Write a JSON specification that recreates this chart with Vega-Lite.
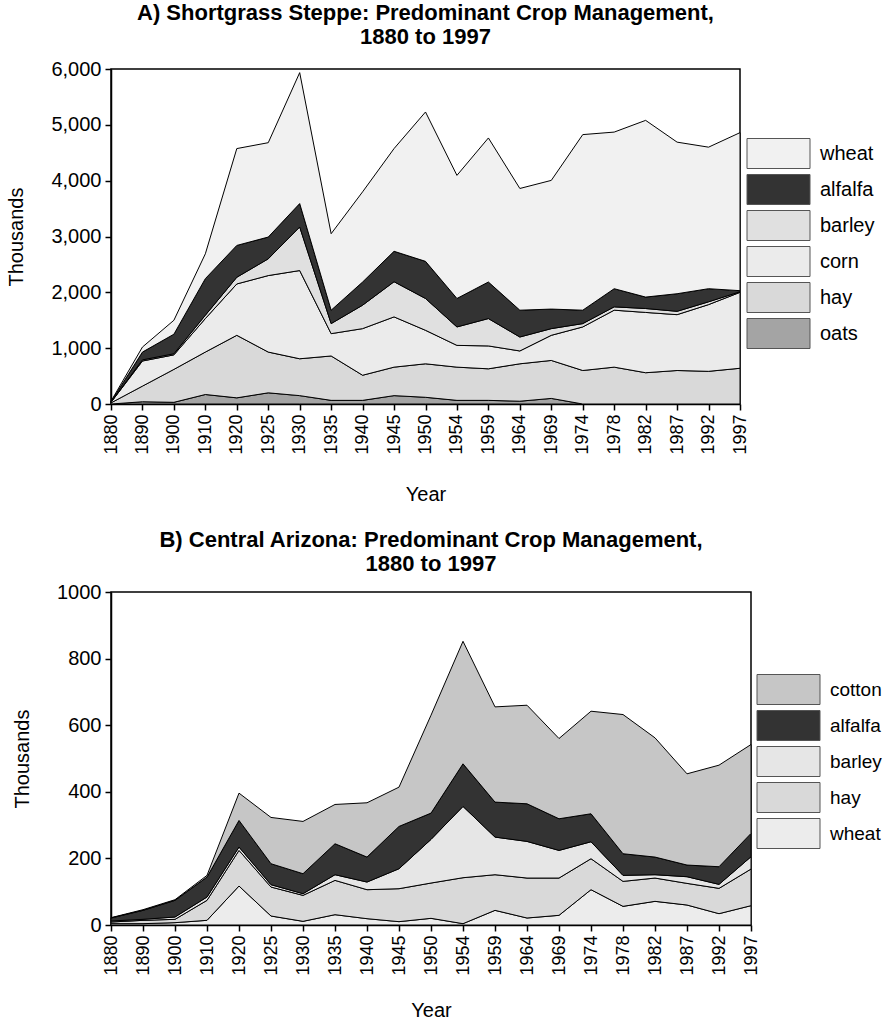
{
  "$schema": "https://vega.github.io/schema/vega-lite/v6.json",
  "padding": {"left": 6, "top": 1, "right": 0, "bottom": 0},
  "background": "white",
  "datasets": {
    "steppe": [
      {"year": "1880", "crop": "oats", "value": 0}, {"year": "1880", "crop": "hay", "value": 20}, {"year": "1880", "crop": "corn", "value": 10}, {"year": "1880", "crop": "barley", "value": 5}, {"year": "1880", "crop": "alfalfa", "value": 5}, {"year": "1880", "crop": "wheat", "value": 10},
      {"year": "1890", "crop": "oats", "value": 40}, {"year": "1890", "crop": "hay", "value": 280}, {"year": "1890", "crop": "corn", "value": 450}, {"year": "1890", "crop": "barley", "value": 20}, {"year": "1890", "crop": "alfalfa", "value": 140}, {"year": "1890", "crop": "wheat", "value": 90},
      {"year": "1900", "crop": "oats", "value": 30}, {"year": "1900", "crop": "hay", "value": 590}, {"year": "1900", "crop": "corn", "value": 260}, {"year": "1900", "crop": "barley", "value": 20}, {"year": "1900", "crop": "alfalfa", "value": 350}, {"year": "1900", "crop": "wheat", "value": 250},
      {"year": "1910", "crop": "oats", "value": 170}, {"year": "1910", "crop": "hay", "value": 760}, {"year": "1910", "crop": "corn", "value": 600}, {"year": "1910", "crop": "barley", "value": 60}, {"year": "1910", "crop": "alfalfa", "value": 655}, {"year": "1910", "crop": "wheat", "value": 445},
      {"year": "1920", "crop": "oats", "value": 110}, {"year": "1920", "crop": "hay", "value": 1120}, {"year": "1920", "crop": "corn", "value": 920}, {"year": "1920", "crop": "barley", "value": 120}, {"year": "1920", "crop": "alfalfa", "value": 570}, {"year": "1920", "crop": "wheat", "value": 1735},
      {"year": "1925", "crop": "oats", "value": 200}, {"year": "1925", "crop": "hay", "value": 730}, {"year": "1925", "crop": "corn", "value": 1370}, {"year": "1925", "crop": "barley", "value": 300}, {"year": "1925", "crop": "alfalfa", "value": 390}, {"year": "1925", "crop": "wheat", "value": 1690},
      {"year": "1930", "crop": "oats", "value": 150}, {"year": "1930", "crop": "hay", "value": 660}, {"year": "1930", "crop": "corn", "value": 1580}, {"year": "1930", "crop": "barley", "value": 780}, {"year": "1930", "crop": "alfalfa", "value": 420}, {"year": "1930", "crop": "wheat", "value": 2345},
      {"year": "1935", "crop": "oats", "value": 65}, {"year": "1935", "crop": "hay", "value": 795}, {"year": "1935", "crop": "corn", "value": 400}, {"year": "1935", "crop": "barley", "value": 180}, {"year": "1935", "crop": "alfalfa", "value": 240}, {"year": "1935", "crop": "wheat", "value": 1370},
      {"year": "1940", "crop": "oats", "value": 65}, {"year": "1940", "crop": "hay", "value": 450}, {"year": "1940", "crop": "corn", "value": 835}, {"year": "1940", "crop": "barley", "value": 420}, {"year": "1940", "crop": "alfalfa", "value": 415}, {"year": "1940", "crop": "wheat", "value": 1615},
      {"year": "1945", "crop": "oats", "value": 150}, {"year": "1945", "crop": "hay", "value": 510}, {"year": "1945", "crop": "corn", "value": 900}, {"year": "1945", "crop": "barley", "value": 630}, {"year": "1945", "crop": "alfalfa", "value": 545}, {"year": "1945", "crop": "wheat", "value": 1840},
      {"year": "1950", "crop": "oats", "value": 120}, {"year": "1950", "crop": "hay", "value": 600}, {"year": "1950", "crop": "corn", "value": 600}, {"year": "1950", "crop": "barley", "value": 570}, {"year": "1950", "crop": "alfalfa", "value": 665}, {"year": "1950", "crop": "wheat", "value": 2675},
      {"year": "1954", "crop": "oats", "value": 65}, {"year": "1954", "crop": "hay", "value": 595}, {"year": "1954", "crop": "corn", "value": 390}, {"year": "1954", "crop": "barley", "value": 330}, {"year": "1954", "crop": "alfalfa", "value": 510}, {"year": "1954", "crop": "wheat", "value": 2205},
      {"year": "1959", "crop": "oats", "value": 65}, {"year": "1959", "crop": "hay", "value": 565}, {"year": "1959", "crop": "corn", "value": 410}, {"year": "1959", "crop": "barley", "value": 490}, {"year": "1959", "crop": "alfalfa", "value": 655}, {"year": "1959", "crop": "wheat", "value": 2580},
      {"year": "1964", "crop": "oats", "value": 50}, {"year": "1964", "crop": "hay", "value": 670}, {"year": "1964", "crop": "corn", "value": 230}, {"year": "1964", "crop": "barley", "value": 250}, {"year": "1964", "crop": "alfalfa", "value": 480}, {"year": "1964", "crop": "wheat", "value": 2180},
      {"year": "1969", "crop": "oats", "value": 100}, {"year": "1969", "crop": "hay", "value": 680}, {"year": "1969", "crop": "corn", "value": 450}, {"year": "1969", "crop": "barley", "value": 120}, {"year": "1969", "crop": "alfalfa", "value": 350}, {"year": "1969", "crop": "wheat", "value": 2305},
      {"year": "1974", "crop": "oats", "value": 0}, {"year": "1974", "crop": "hay", "value": 600}, {"year": "1974", "crop": "corn", "value": 780}, {"year": "1974", "crop": "barley", "value": 60}, {"year": "1974", "crop": "alfalfa", "value": 240}, {"year": "1974", "crop": "wheat", "value": 3145},
      {"year": "1978", "crop": "oats", "value": 0}, {"year": "1978", "crop": "hay", "value": 660}, {"year": "1978", "crop": "corn", "value": 1020}, {"year": "1978", "crop": "barley", "value": 60}, {"year": "1978", "crop": "alfalfa", "value": 325}, {"year": "1978", "crop": "wheat", "value": 2805},
      {"year": "1982", "crop": "oats", "value": 0}, {"year": "1982", "crop": "hay", "value": 560}, {"year": "1982", "crop": "corn", "value": 1080}, {"year": "1982", "crop": "barley", "value": 70}, {"year": "1982", "crop": "alfalfa", "value": 205}, {"year": "1982", "crop": "wheat", "value": 3165},
      {"year": "1987", "crop": "oats", "value": 0}, {"year": "1987", "crop": "hay", "value": 600}, {"year": "1987", "crop": "corn", "value": 1000}, {"year": "1987", "crop": "barley", "value": 60}, {"year": "1987", "crop": "alfalfa", "value": 315}, {"year": "1987", "crop": "wheat", "value": 2715},
      {"year": "1992", "crop": "oats", "value": 0}, {"year": "1992", "crop": "hay", "value": 585}, {"year": "1992", "crop": "corn", "value": 1195}, {"year": "1992", "crop": "barley", "value": 50}, {"year": "1992", "crop": "alfalfa", "value": 235}, {"year": "1992", "crop": "wheat", "value": 2535},
      {"year": "1997", "crop": "oats", "value": 0}, {"year": "1997", "crop": "hay", "value": 640}, {"year": "1997", "crop": "corn", "value": 1360}, {"year": "1997", "crop": "barley", "value": 10}, {"year": "1997", "crop": "alfalfa", "value": 20}, {"year": "1997", "crop": "wheat", "value": 2830}
    ],
    "arizona": [
      {"year": "1880", "crop": "wheat", "value": 4}, {"year": "1880", "crop": "hay", "value": 5}, {"year": "1880", "crop": "barley", "value": 3}, {"year": "1880", "crop": "alfalfa", "value": 9}, {"year": "1880", "crop": "cotton", "value": 1},
      {"year": "1890", "crop": "wheat", "value": 4}, {"year": "1890", "crop": "hay", "value": 10}, {"year": "1890", "crop": "barley", "value": 3}, {"year": "1890", "crop": "alfalfa", "value": 27}, {"year": "1890", "crop": "cotton", "value": 2},
      {"year": "1900", "crop": "wheat", "value": 7}, {"year": "1900", "crop": "hay", "value": 10}, {"year": "1900", "crop": "barley", "value": 7}, {"year": "1900", "crop": "alfalfa", "value": 50}, {"year": "1900", "crop": "cotton", "value": 2},
      {"year": "1910", "crop": "wheat", "value": 14}, {"year": "1910", "crop": "hay", "value": 60}, {"year": "1910", "crop": "barley", "value": 10}, {"year": "1910", "crop": "alfalfa", "value": 60}, {"year": "1910", "crop": "cotton", "value": 5},
      {"year": "1920", "crop": "wheat", "value": 117}, {"year": "1920", "crop": "hay", "value": 107}, {"year": "1920", "crop": "barley", "value": 10}, {"year": "1920", "crop": "alfalfa", "value": 80}, {"year": "1920", "crop": "cotton", "value": 82},
      {"year": "1925", "crop": "wheat", "value": 27}, {"year": "1925", "crop": "hay", "value": 87}, {"year": "1925", "crop": "barley", "value": 7}, {"year": "1925", "crop": "alfalfa", "value": 63}, {"year": "1925", "crop": "cotton", "value": 139},
      {"year": "1930", "crop": "wheat", "value": 11}, {"year": "1930", "crop": "hay", "value": 78}, {"year": "1930", "crop": "barley", "value": 5}, {"year": "1930", "crop": "alfalfa", "value": 60}, {"year": "1930", "crop": "cotton", "value": 157},
      {"year": "1935", "crop": "wheat", "value": 31}, {"year": "1935", "crop": "hay", "value": 103}, {"year": "1935", "crop": "barley", "value": 17}, {"year": "1935", "crop": "alfalfa", "value": 93}, {"year": "1935", "crop": "cotton", "value": 118},
      {"year": "1940", "crop": "wheat", "value": 19}, {"year": "1940", "crop": "hay", "value": 87}, {"year": "1940", "crop": "barley", "value": 23}, {"year": "1940", "crop": "alfalfa", "value": 75}, {"year": "1940", "crop": "cotton", "value": 163},
      {"year": "1945", "crop": "wheat", "value": 10}, {"year": "1945", "crop": "hay", "value": 99}, {"year": "1945", "crop": "barley", "value": 60}, {"year": "1945", "crop": "alfalfa", "value": 127}, {"year": "1945", "crop": "cotton", "value": 118},
      {"year": "1950", "crop": "wheat", "value": 20}, {"year": "1950", "crop": "hay", "value": 106}, {"year": "1950", "crop": "barley", "value": 131}, {"year": "1950", "crop": "alfalfa", "value": 79}, {"year": "1950", "crop": "cotton", "value": 294},
      {"year": "1954", "crop": "wheat", "value": 4}, {"year": "1954", "crop": "hay", "value": 138}, {"year": "1954", "crop": "barley", "value": 214}, {"year": "1954", "crop": "alfalfa", "value": 128}, {"year": "1954", "crop": "cotton", "value": 368},
      {"year": "1959", "crop": "wheat", "value": 44}, {"year": "1959", "crop": "hay", "value": 107}, {"year": "1959", "crop": "barley", "value": 113}, {"year": "1959", "crop": "alfalfa", "value": 105}, {"year": "1959", "crop": "cotton", "value": 286},
      {"year": "1964", "crop": "wheat", "value": 21}, {"year": "1964", "crop": "hay", "value": 120}, {"year": "1964", "crop": "barley", "value": 110}, {"year": "1964", "crop": "alfalfa", "value": 113}, {"year": "1964", "crop": "cotton", "value": 296},
      {"year": "1969", "crop": "wheat", "value": 29}, {"year": "1969", "crop": "hay", "value": 112}, {"year": "1969", "crop": "barley", "value": 83}, {"year": "1969", "crop": "alfalfa", "value": 95}, {"year": "1969", "crop": "cotton", "value": 241},
      {"year": "1974", "crop": "wheat", "value": 106}, {"year": "1974", "crop": "hay", "value": 93}, {"year": "1974", "crop": "barley", "value": 51}, {"year": "1974", "crop": "alfalfa", "value": 84}, {"year": "1974", "crop": "cotton", "value": 308},
      {"year": "1978", "crop": "wheat", "value": 56}, {"year": "1978", "crop": "hay", "value": 75}, {"year": "1978", "crop": "barley", "value": 18}, {"year": "1978", "crop": "alfalfa", "value": 65}, {"year": "1978", "crop": "cotton", "value": 418},
      {"year": "1982", "crop": "wheat", "value": 71}, {"year": "1982", "crop": "hay", "value": 70}, {"year": "1982", "crop": "barley", "value": 10}, {"year": "1982", "crop": "alfalfa", "value": 53}, {"year": "1982", "crop": "cotton", "value": 358},
      {"year": "1987", "crop": "wheat", "value": 60}, {"year": "1987", "crop": "hay", "value": 65}, {"year": "1987", "crop": "barley", "value": 20}, {"year": "1987", "crop": "alfalfa", "value": 35}, {"year": "1987", "crop": "cotton", "value": 274},
      {"year": "1992", "crop": "wheat", "value": 34}, {"year": "1992", "crop": "hay", "value": 76}, {"year": "1992", "crop": "barley", "value": 12}, {"year": "1992", "crop": "alfalfa", "value": 53}, {"year": "1992", "crop": "cotton", "value": 305},
      {"year": "1997", "crop": "wheat", "value": 58}, {"year": "1997", "crop": "hay", "value": 110}, {"year": "1997", "crop": "barley", "value": 37}, {"year": "1997", "crop": "alfalfa", "value": 70}, {"year": "1997", "crop": "cotton", "value": 267}
    ],
    "steppeOrder": [
      {"crop": "oats", "rank": 1}, {"crop": "hay", "rank": 2}, {"crop": "corn", "rank": 3},
      {"crop": "barley", "rank": 4}, {"crop": "alfalfa", "rank": 5}, {"crop": "wheat", "rank": 6}
    ],
    "arizonaOrder": [
      {"crop": "wheat", "rank": 1}, {"crop": "hay", "rank": 2}, {"crop": "barley", "rank": 3},
      {"crop": "alfalfa", "rank": 4}, {"crop": "cotton", "rank": 5}
    ]
  },
  "vconcat": [
    {
      "data": {"name": "steppe"},
      "transform": [{"lookup": "crop", "from": {"data": {"name": "steppeOrder"}, "key": "crop", "fields": ["rank"]}}],
      "width": 629,
      "height": 335,
      "title": {"text": ["A)  Shortgrass Steppe: Predominant Crop Management,", "1880 to 1997"], "offset": 10},
      "mark": {"type": "area", "stroke": "black", "strokeWidth": 1, "fillOpacity": 1},
      "encoding": {
        "x": {"field": "year", "type": "ordinal", "title": "Year", "scale": {"type": "point", "padding": 0}},
        "y": {"field": "value", "type": "quantitative", "stack": "zero", "title": "Thousands",
              "scale": {"domain": [0, 6000], "nice": false},
              "axis": {"values": [0, 1000, 2000, 3000, 4000, 5000, 6000], "format": ",.0f"}},
        "order": {"field": "rank", "type": "quantitative", "sort": "ascending"},
        "color": {"field": "crop", "type": "nominal",
                  "scale": {"domain": ["wheat", "alfalfa", "barley", "corn", "hay", "oats"],
                            "range": ["#f1f1f1", "#333333", "#e0e0e0", "#ebebeb", "#d9d9d9", "#a4a4a4"]},
                  "legend": {"orient": "none", "legendX": 652, "legendY": 69, "title": null, "labelFontSize": 20}}
      }
    },
    {
      "data": {"name": "arizona"},
      "transform": [{"lookup": "crop", "from": {"data": {"name": "arizonaOrder"}, "key": "crop", "fields": ["rank"]}}],
      "width": 640,
      "height": 333,
      "title": {"text": ["B)  Central Arizona: Predominant Crop Management,", "1880 to 1997"], "offset": 6},
      "mark": {"type": "area", "stroke": "black", "strokeWidth": 1, "fillOpacity": 1},
      "encoding": {
        "x": {"field": "year", "type": "ordinal", "title": "Year", "scale": {"type": "point", "padding": 0}, "axis": {"titlePadding": 25}},
        "y": {"field": "value", "type": "quantitative", "stack": "zero", "title": "Thousands",
              "scale": {"domain": [0, 1000], "nice": false},
              "axis": {"values": [0, 200, 400, 600, 800, 1000], "format": "d"}},
        "order": {"field": "rank", "type": "quantitative", "sort": "ascending"},
        "color": {"field": "crop", "type": "nominal",
                  "scale": {"domain": ["cotton", "alfalfa", "barley", "hay", "wheat"],
                            "range": ["#c6c6c6", "#333333", "#e6e6e6", "#d9d9d9", "#ececec"]},
                  "legend": {"orient": "none", "legendX": 662, "legendY": 82, "title": null, "labelFontSize": 19}}
      }
    }
  ],
  "spacing": 23,
  "resolve": {"scale": {"color": "independent", "x": "independent", "y": "independent"}, "legend": {"color": "independent"}},
  "config": {
    "font": "Liberation Sans",
    "view": {"stroke": "black", "strokeWidth": 1.5},
    "title": {"font": "Liberation Sans", "fontSize": 22, "fontWeight": "bold", "color": "black", "anchor": "middle", "frame": "group", "lineHeight": 24},
    "axis": {"grid": false, "domainColor": "black", "tickColor": "black", "labelColor": "black", "titleColor": "black",
             "labelFont": "Liberation Sans", "titleFont": "Liberation Sans", "labelFontSize": 18, "titleFontSize": 20,
             "titleFontWeight": "normal", "tickSize": 6, "domainWidth": 1.5, "tickWidth": 1.5},
    "axisX": {"labelAngle": -90, "labelPadding": 4, "titlePadding": 30},
    "axisY": {"titlePadding": 24, "labelPadding": 4, "labelFontSize": 20},
    "legend": {"symbolType": "M-2.1,-1H2.1V1H-2.1Z", "symbolSize": 900, "symbolStrokeColor": "#555555", "symbolStrokeWidth": 1,
               "symbolOpacity": 1, "labelFont": "Liberation Sans", "labelColor": "black",
               "labelOffset": 26, "rowPadding": 1, "padding": 0}
  }
}
